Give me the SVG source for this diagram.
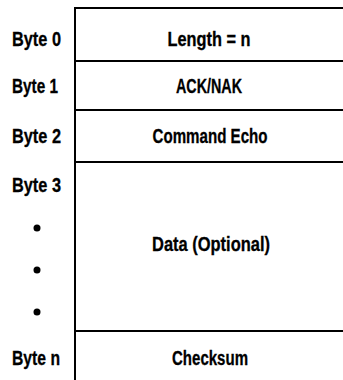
<svg xmlns="http://www.w3.org/2000/svg" width="343" height="380" viewBox="0 0 343 380">
<style>
.t{font-family:"Liberation Sans",Arial,sans-serif;font-weight:bold;font-size:20px;fill:#000;stroke:#000;stroke-width:0.3}
.c{text-anchor:middle}
.ln{stroke:#000;stroke-width:2;fill:none}
</style>
<rect width="343" height="380" fill="#fff"/>
<g id="frame">
<path class="ln" d="M75,380 V8 H343 M75,61 H343 M75,110 H343 M75,162 H343 M75,331 H343"/>
</g>
<g id="labels">
<text class="t" x="12" y="46" textLength="49" lengthAdjust="spacingAndGlyphs">Byte 0</text>
<text class="t" x="12" y="93" textLength="46" lengthAdjust="spacingAndGlyphs">Byte 1</text>
<text class="t" x="12" y="143" textLength="49" lengthAdjust="spacingAndGlyphs">Byte 2</text>
<text class="t" x="12" y="192" textLength="49" lengthAdjust="spacingAndGlyphs">Byte 3</text>
<circle cx="37" cy="228" r="3.5"/>
<circle cx="37" cy="270" r="3.5"/>
<circle cx="37" cy="312" r="3.5"/>
<text class="t" x="12" y="365" textLength="48" lengthAdjust="spacingAndGlyphs">Byte n</text>
</g>
<g id="field-length"><text class="t c" x="209" y="46" textLength="83" lengthAdjust="spacingAndGlyphs">Length = n</text></g>
<g id="field-ack"><text class="t c" x="209" y="93" textLength="66" lengthAdjust="spacingAndGlyphs">ACK/NAK</text></g>
<g id="field-cmd"><text class="t c" x="210" y="143" textLength="115" lengthAdjust="spacingAndGlyphs">Command Echo</text></g>
<g id="field-data"><text class="t c" x="211" y="251" textLength="118" lengthAdjust="spacingAndGlyphs">Data (Optional)</text></g>
<g id="field-checksum"><text class="t c" x="210" y="365" textLength="76" lengthAdjust="spacingAndGlyphs">Checksum</text></g>
</svg>
